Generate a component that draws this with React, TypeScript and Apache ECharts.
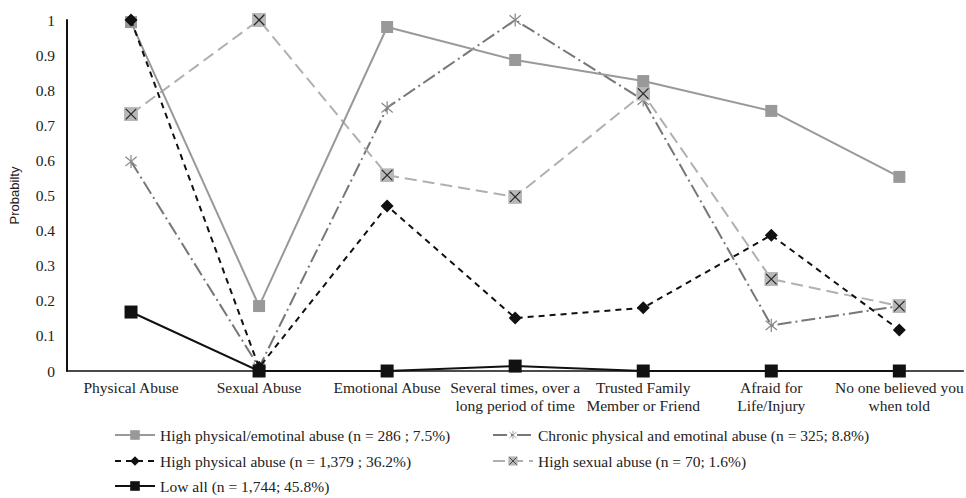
import React, { useEffect, useRef } from "react";
import * as echarts from "echarts";

const categories = [
  "Physical Abuse",
  "Sexual Abuse",
  "Emotional Abuse",
  "Several times, over a\nlong period of time",
  "Trusted Family\nMember or Friend",
  "Afraid for\nLife/Injury",
  "No one believed you\nwhen told",
];

const highPhysEmot = [0.994, 0.185, 0.98, 0.886, 0.826, 0.741, 0.553];
const chronic = [0.597, 0.01, 0.75, 1.0, 0.772, 0.13, 0.185];
const highPhys = [1.0, 0.01, 0.47, 0.151, 0.18, 0.387, 0.117];
const highSexual = [0.732, 1.0, 0.558, 0.496, 0.79, 0.262, 0.185];
const lowAll = [0.168, 0.0, 0.0, 0.014, 0.0, 0.0, 0.0];

const yTicks = [0, 0.1, 0.2, 0.3, 0.4, 0.5, 0.6, 0.7, 0.8, 0.9, 1];

const names = [
  "High physical/emotinal abuse (n = 286 ; 7.5%)",
  "Chronic physical and emotinal abuse (n = 325; 8.8%)",
  "High physical abuse (n = 1,379 ; 36.2%)",
  "High sexual abuse (n = 70; 1.6%)",
  "Low all (n = 1,744; 45.8%)",
];

const svgUri = (svg: string) =>
  "image://data:image/svg+xml;utf8," + encodeURIComponent(svg);

const asteriskSym = svgUri(
  '<svg xmlns="http://www.w3.org/2000/svg" width="16" height="16" viewBox="0 0 16 16">' +
    '<g stroke="#888" stroke-width="1.3" fill="none">' +
    '<line x1="8" y1="1" x2="8" y2="15"/>' +
    '<line x1="2" y1="3" x2="14" y2="13"/>' +
    '<line x1="14" y1="3" x2="2" y2="13"/>' +
    "</g></svg>"
);

const boxXSym = svgUri(
  '<svg xmlns="http://www.w3.org/2000/svg" width="16" height="16" viewBox="0 0 16 16">' +
    '<rect x="0" y="0" width="16" height="16" fill="#b8b8b8"/>' +
    '<g stroke="#222" stroke-width="1.3">' +
    '<line x1="2" y1="2" x2="14" y2="14"/>' +
    '<line x1="14" y1="2" x2="2" y2="14"/>' +
    "</g></svg>"
);

const serif = "'Liberation Serif', 'Times New Roman', serif";

export default function App() {
  const ref = useRef<HTMLDivElement>(null);

  useEffect(() => {
    document.body.style.margin = "0";
    if (!ref.current) return;
    const chart = echarts.init(ref.current, undefined, { renderer: "svg" });

    const legendPos = [
      { left: 114, top: 427 },
      { left: 492, top: 427 },
      { left: 114, top: 453 },
      { left: 492, top: 453 },
      { left: 114, top: 478 },
    ];

    chart.setOption({
      animation: false,
      backgroundColor: "#fff",
      grid: { left: 62, top: 20, width: 906, height: 351, containLabel: false },
      xAxis: {
        type: "category",
        data: categories,
        boundaryGap: true,
        axisLine: { show: true, lineStyle: { color: "#111", width: 1.5 } },
        axisTick: { show: false },
        axisLabel: {
          interval: 0,
          fontFamily: serif,
          fontSize: 15.5,
          color: "#222",
          lineHeight: 18,
          margin: 7,
        },
        splitLine: { show: false },
      },
      yAxis: {
        type: "value",
        min: 0,
        max: 1,
        interval: 0.1,
        name: "Probabilty",
        nameLocation: "middle",
        nameGap: 46,
        nameRotate: 90,
        nameTextStyle: {
          fontFamily: "'Liberation Sans', Arial, sans-serif",
          fontSize: 13,
          color: "#222",
        },
        axisLine: { show: true, lineStyle: { color: "#111", width: 2 } },
        axisTick: { show: false },
        splitLine: { show: false },
        axisLabel: {
          fontFamily: serif,
          fontSize: 15.5,
          color: "#222",
          margin: 12,
          formatter: (v: number) => {
            const t = yTicks.find((x) => Math.abs(x - v) < 1e-6);
            return t === undefined ? "" : String(t);
          },
        },
      },
      legend: names.map((n, i) => ({
        data: [n],
        left: legendPos[i].left,
        top: legendPos[i].top,
        padding: 0,
        itemWidth: 40,
        itemHeight: 12,
        itemGap: 4,
        textStyle: { fontFamily: serif, fontSize: 15.5, color: "#222" },
        selectedMode: false,
      })),
      series: [
        {
          name: names[0],
          type: "line",
          data: highPhysEmot,
          symbol: "rect",
          symbolSize: 12,
          itemStyle: { color: "#999" },
          lineStyle: { color: "#999", width: 2, type: "solid" },
          z: 3,
        },
        {
          name: names[1],
          type: "line",
          data: chronic,
          symbol: asteriskSym,
          symbolSize: 15,
          itemStyle: { color: "#777" },
          lineStyle: { color: "#777", width: 2, type: [14, 4, 2, 4] },
          z: 2,
        },
        {
          name: names[2],
          type: "line",
          data: highPhys,
          symbol: "diamond",
          symbolSize: 13,
          itemStyle: { color: "#111" },
          lineStyle: { color: "#111", width: 2, type: [6, 5] },
          z: 4,
        },
        {
          name: names[3],
          type: "line",
          data: highSexual,
          symbol: boxXSym,
          symbolSize: 14,
          itemStyle: { color: "#b0b0b0" },
          lineStyle: { color: "#b0b0b0", width: 2, type: [12, 6] },
          z: 2,
        },
        {
          name: names[4],
          type: "line",
          data: lowAll,
          symbol: "rect",
          symbolSize: 13,
          itemStyle: { color: "#111" },
          lineStyle: { color: "#111", width: 2, type: "solid" },
          z: 5,
        },
      ],
    });

    return () => chart.dispose();
  }, []);

  return <div ref={ref} style={{ width: 966, height: 498 }} />;
}
